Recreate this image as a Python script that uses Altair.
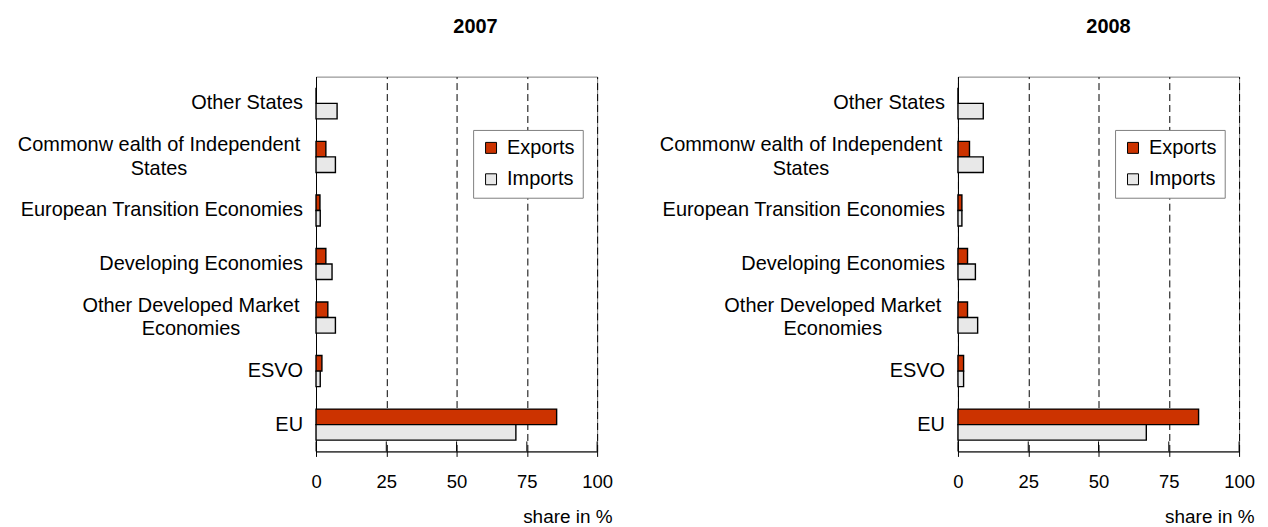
import altair as alt
import pandas as pd

regions = [
    "Other States",
    "Commonw ealth of Independent States",
    "European Transition Economies",
    "Developing Economies",
    "Other Developed Market Economies",
    "ESVO",
    "EU",
]
series = ["Exports", "Imports"]
colors = ["#CC3300", "#E8E8E8"]

exports_2007 = [0.0, 3.5, 1.4, 3.5, 4.2, 2.1, 85.6]
imports_2007 = [7.5, 6.9, 1.5, 5.7, 6.9, 1.5, 71.1]
exports_2008 = [0.0, 4.1, 1.4, 3.4, 3.4, 2.0, 85.6]
imports_2008 = [9.0, 9.0, 1.4, 6.2, 7.0, 2.0, 67.0]

x_ticks = [0, 25, 50, 75, 100]
x_title = "share in %"

# two-line labels as shown in the chart
wrapped = {
    "Commonw ealth of Independent States": ["Commonw ealth of Independent", "States"],
    "Other Developed Market Economies": ["Other Developed Market", "Economies"],
}

FONT = "Liberation Sans"
W, H = 282, 376


def label_expr():
    parts = []
    for k, lines in wrapped.items():
        arr = "[" + ", ".join("'" + l + "'" for l in lines) + "]"
        parts.append(f"datum.value == '{k}' ? {arr}")
    return " : ".join(parts) + " : datum.label"


keys = list(wrapped.keys())
label_align = {
    "condition": [{"test": f"datum.value == '{k}'", "value": "center"} for k in keys],
    "value": "right",
}
label_padding = {
    "condition": [
        {"test": f"datum.value == '{keys[0]}'", "value": 158},
        {"test": f"datum.value == '{keys[1]}'", "value": 126},
    ],
    "value": 13.5,
}
label_offset = {
    "condition": [{"test": f"datum.value == '{k}'", "value": -12} for k in keys],
    "value": 0,
}

x_scale = alt.Scale(domain=[0, 100], nice=False)
x_axis = alt.Axis(
    values=x_ticks,
    title=x_title,
    grid=True,
    gridColor="black",
    gridDash=[7, 4],
    gridWidth=1,
    domainColor="black",
    tickColor="black",
    tickSize=5,
    labelFontSize=18.5,
    labelColor="black",
    labelPadding=16,
    labelFlush=False,
    titleFontSize=19,
    titleFontWeight="normal",
    titleColor="black",
    titleAlign="right",
    titleBaseline="middle",
    titleX=297,
    titleY=65,
)


def panel(year, exp, imp, title_dx):
    df = pd.DataFrame(
        {
            "region": regions * 2,
            "series": [series[0]] * len(regions) + [series[1]] * len(regions),
            "value": exp + imp,
        }
    )
    bars = (
        alt.Chart(df)
        .mark_bar(stroke="black", strokeWidth=1.4)
        .encode(
            x=alt.X("value:Q", scale=x_scale, axis=x_axis, title=x_title),
            y=alt.Y(
                "region:N",
                sort=regions,
                scale=alt.Scale(paddingInner=0.42, paddingOuter=0.21),
                axis=alt.Axis(
                    title=None,
                    ticks=False,
                    domainColor="black",
                    labelFontSize=20,
                    labelColor="black",
                    labelLineHeight=24,
                    labelLimit=500,
                    labelBaseline="middle",
                    labelExpr=label_expr(),
                    labelAlign=label_align,
                    labelPadding=label_padding,
                    labelOffset=label_offset,
                ),
            ),
            yOffset=alt.YOffset(
                "series:N", sort=series, scale=alt.Scale(paddingInner=0, paddingOuter=0)
            ),
            color=alt.Color(
                "series:N",
                scale=alt.Scale(domain=series, range=colors),
                legend=alt.Legend(
                    title=None,
                    orient="none",
                    legendX=157.6,
                    legendY=53.5,
                    fillColor="white",
                    strokeColor="#808080",
                    padding=8,
                    symbolType="square",
                    symbolSize=121,
                    symbolStrokeColor="black",
                    symbolStrokeWidth=1,
                    symbolOpacity=1,
                    labelFontSize=20,
                    labelColor="black",
                    labelOffset=6,
                    rowPadding=11.5,
                ),
            ),
        )
    )
    # inner part of the tick marks (they cross the axis line)
    ticks = (
        alt.Chart(pd.DataFrame({"tick": x_ticks}))
        .mark_rule(color="black", strokeWidth=1)
        .encode(
            x=alt.X("tick:Q", scale=x_scale, axis=x_axis, title=x_title),
            y=alt.value(H - 10),
            y2=alt.value(H),
        )
    )
    return alt.layer(bars, ticks).properties(
        width=W,
        height=H,
        title=alt.TitleParams(
            text=year,
            fontSize=20,
            fontWeight="bold",
            color="black",
            anchor="middle",
            frame="group",
            dx=title_dx,
            offset=40,
        ),
    )


left = panel("2007", exports_2007, imports_2007, 19)
right = panel("2008", exports_2008, imports_2008, 10)

chart = (
    alt.hconcat(left, right, spacing=45)
    .resolve_scale(color="independent")
    .resolve_legend(color="independent")
    .properties(padding={"left": 8, "top": 7, "right": 5, "bottom": 0})
    .configure(font=FONT)
    .configure_view(stroke="#808080", strokeWidth=1)
)

chart.save("out.html", embed_options={"renderer": "svg", "actions": False})
